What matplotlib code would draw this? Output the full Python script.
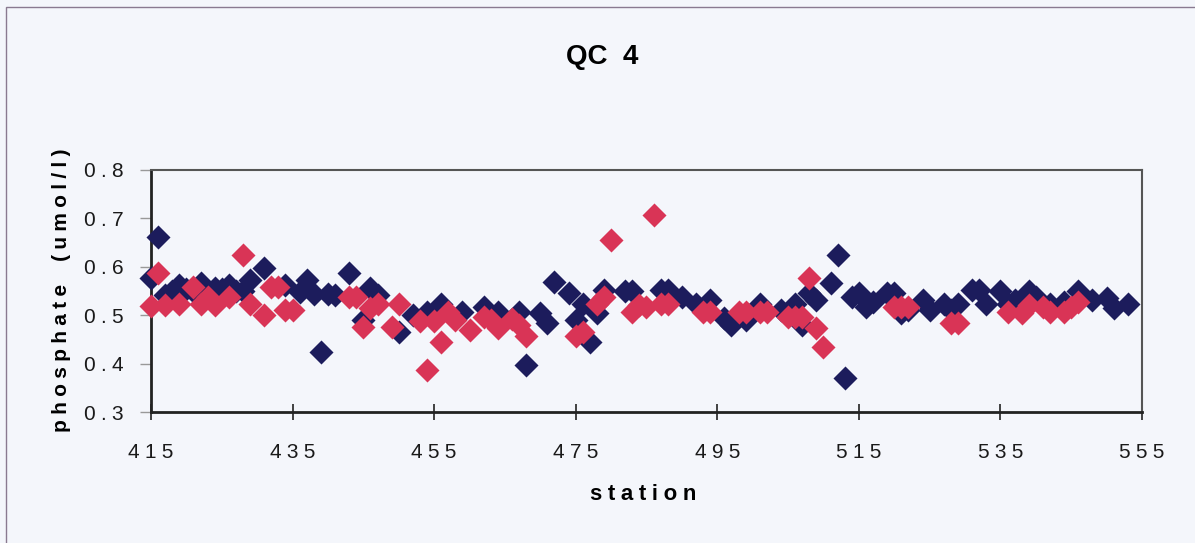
import matplotlib.pyplot as plt
from matplotlib.patches import Rectangle

# --- data ---
blue_station = [415, 416, 417, 418, 419, 420, 421, 422, 423, 424, 425, 426, 427, 428, 429,
                431, 434, 436, 437, 438, 439, 440, 441, 443, 445, 446, 447, 450, 452, 454,
                456, 459, 462, 464, 467, 468, 470, 471, 472, 474, 475, 476, 477, 478, 479,
                482, 483, 487, 488, 490, 492, 494, 496, 497, 499, 501, 504, 506, 507, 508,
                509, 511, 512, 513, 514, 515, 516, 517, 519, 520, 521, 522, 524, 525, 527,
                528, 529, 531, 532, 533, 535, 536, 537, 539, 540, 542, 544, 546, 548, 550,
                551, 553]
blue_value = [0.576, 0.661, 0.542, 0.550, 0.562, 0.555, 0.550, 0.566, 0.550, 0.556, 0.555, 0.562, 0.550, 0.549, 0.573,
              0.597, 0.563, 0.548, 0.573, 0.543, 0.425, 0.543, 0.542, 0.587, 0.490, 0.556, 0.542, 0.466, 0.500, 0.507,
              0.524, 0.507, 0.517, 0.507, 0.507, 0.397, 0.504, 0.483, 0.569, 0.545, 0.490, 0.524, 0.445, 0.504, 0.552,
              0.549, 0.549, 0.552, 0.552, 0.538, 0.524, 0.531, 0.494, 0.480, 0.490, 0.524, 0.511, 0.524, 0.480, 0.545,
              0.531, 0.566, 0.624, 0.370, 0.538, 0.545, 0.517, 0.528, 0.545, 0.545, 0.505, 0.511, 0.531, 0.511, 0.524,
              0.511, 0.524, 0.552, 0.552, 0.524, 0.549, 0.524, 0.531, 0.549, 0.538, 0.524, 0.528, 0.549, 0.531, 0.535,
              0.514, 0.524]

red_station = [415, 416, 417, 419, 421, 422, 423, 424, 426, 428, 429, 431, 432, 433, 434,
               435, 443, 444, 445, 446, 447, 449, 450, 453, 454, 455, 456, 457, 458, 460,
               462, 463, 464, 466, 467, 468, 475, 476, 478, 479, 480, 483, 484, 485, 486,
               487, 488, 493, 494, 498, 499, 501, 502, 505, 506, 507, 508, 509, 510, 520,
               521, 522, 528, 529, 536, 538, 539, 541, 542, 544, 545, 546]
red_value = [0.519, 0.587, 0.521, 0.524, 0.559, 0.524, 0.538, 0.521, 0.538, 0.624, 0.524, 0.500, 0.559, 0.559, 0.511,
             0.511, 0.538, 0.538, 0.476, 0.514, 0.524, 0.476, 0.524, 0.487, 0.387, 0.487, 0.445, 0.507, 0.490, 0.469,
             0.497, 0.490, 0.473, 0.493, 0.480, 0.456, 0.456, 0.466, 0.524, 0.538, 0.655, 0.507, 0.521, 0.517, 0.707,
             0.524, 0.524, 0.507, 0.507, 0.507, 0.507, 0.507, 0.507, 0.497, 0.497, 0.497, 0.576, 0.473, 0.435, 0.517,
             0.517, 0.517, 0.483, 0.483, 0.507, 0.504, 0.521, 0.517, 0.507, 0.507, 0.517, 0.528]

x_ticks = [415, 435, 455, 475, 495, 515, 535, 555]
y_ticks = [0.3, 0.4, 0.5, 0.6, 0.7, 0.8]

bg = '#f4f6fb'
navy = '#1c1c5c'
red = '#d93456'

GAP = '\u2005'  # four-per-em space, to mimic the scan's wide letter spacing


def spaced(s):
    return GAP.join(s)


plt.rcParams['font.family'] = ['Liberation Sans', 'DejaVu Sans']

fig = plt.figure(figsize=(11.95, 5.43), dpi=100, facecolor=bg)
ax = fig.add_axes([151 / 1195, 1 - 412 / 543, 991 / 1195, 242 / 543])
ax.set_facecolor(bg)

# outer chart border (only top/left visible in the scan)
fig.patches.append(Rectangle((6 / 1195, -0.05), 1.2, 1 - 7 / 543 + 0.05, transform=fig.transFigure,
                             fill=False, edgecolor='#8a7a90', linewidth=1.0, zorder=0))

ax.scatter(blue_station, blue_value, marker='D', s=150, color=navy, linewidths=0, zorder=3, clip_on=False)
ax.scatter(red_station, red_value, marker='D', s=150, color=red, linewidths=0, zorder=4, clip_on=False)

ax.set_xlim(415, 555)
ax.set_ylim(0.3, 0.8)
ax.set_xticks(x_ticks)
ax.set_xticklabels([spaced(str(t)) for t in x_ticks])
ax.set_yticks(y_ticks)
ax.set_yticklabels([spaced(f'{t:.1f}') for t in y_ticks])

for side in ['left', 'bottom']:
    ax.spines[side].set_linewidth(2.0)
    ax.spines[side].set_color('#222222')
for side in ['top', 'right']:
    ax.spines[side].set_linewidth(1.5)
    ax.spines[side].set_color('#555555')

ax.tick_params(axis='x', direction='inout', length=12, width=1.2, color='#222222',
               labelsize=15, pad=16, labelcolor='#1a1a1a')
ax.tick_params(axis='y', direction='out', length=8, width=1.0, color='#999999',
               labelsize=15, pad=12, labelcolor='#1a1a1a')

fig.text(602 / 1195, 1 - 57 / 543, 'QC  4', ha='center', va='center', fontsize=20, fontweight='bold')
fig.text(643 / 1195, 1 - 495 / 543, spaced('station'), ha='center', va='center', fontsize=16, fontweight='bold')
fig.text(62 / 1195, 1 - 290 / 543, spaced('phosphate') + '    ' + spaced('(umol/l)'), ha='center',
         va='center', rotation=90, fontsize=15, fontweight='bold')

fig.savefig('out.png', dpi=100, facecolor=bg)
